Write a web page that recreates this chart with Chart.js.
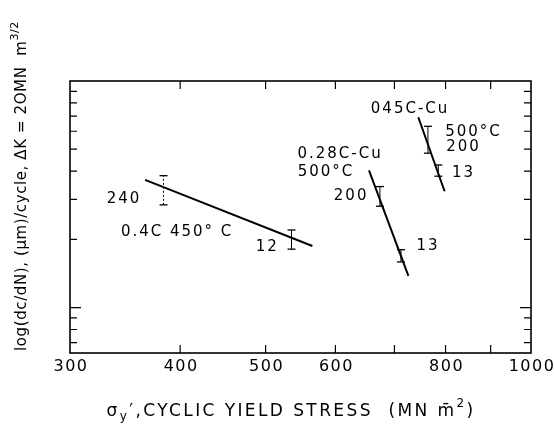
<!DOCTYPE html>
<html>
<head>
<meta charset="utf-8">
<script src="https://cdn.jsdelivr.net/npm/chart.js@4"></script>
<style>
  html, body { margin: 0; padding: 0; background: #fff; }
  #wrap { width: 554px; height: 432px; }
</style>
</head>
<body>
<div id="wrap"><canvas id="crackChart"></canvas></div>
<script>
// axis ticks (log scales, no labels on y)
const xTickValues = [400, 500, 600, 700, 800, 900];
const xTickLabels = [300, 400, 500, 600, 800, 1000];
const yTickValues = [0.07, 0.08, 0.09, 0.1, 0.2, 0.3, 0.4, 0.5, 0.6, 0.7, 0.8, 0.9];
const yMajorTick = 0.1;

// fitted lines, start and end points (cyclic yield stress, growth rate)
const lineX = [[365, 565], [655, 726], [745, 798]];
const lineY = [[0.366, 0.187], [0.403, 0.138], [0.692, 0.326]];

// scatter bands
const barX = [383, 535, 674, 712, 764, 785];
const barLow = [0.284, 0.181, 0.280, 0.159, 0.480, 0.380];
const barHigh = [0.382, 0.220, 0.342, 0.180, 0.631, 0.426];
const barDotted = [true, false, false, false, false, false];

// notes written on the plot, placed at data coordinates
const noteText = ['240', '0.4C 450° C', '12', '0.28C-Cu', '500°C', '200', '13', '045C-Cu', '500°C', '200', '13'];
const noteX = [344.5, 395.8, 500.8, 605.8, 583.9, 623.5, 762.2, 727.3, 858.3, 836.3, 836.3];
const noteY = [0.301, 0.2154, 0.185, 0.476, 0.3945, 0.309, 0.186, 0.752, 0.5925, 0.509, 0.391];

const FONT = '"DejaVu Sans", sans-serif';

const datasets = [];
lineX.forEach((xs, i) => {
    datasets.push({
        data: xs.map((x, j) => ({ x: x, y: lineY[i][j] })),
        showLine: true,
        borderColor: '#000',
        borderWidth: 2,
        pointRadius: 0
    });
});
barX.forEach((x, i) => {
    datasets.push({
        data: [{ x: x, y: barLow[i] }, { x: x, y: barHigh[i] }],
        showLine: true,
        borderColor: '#000',
        borderWidth: 1,
        borderDash: barDotted[i] ? [2, 2] : [],
        pointStyle: 'line',
        pointRadius: 4,
        pointBorderWidth: 1.3,
        pointBorderColor: '#000'
    });
});

// draws a string made of normal / sup / sub parts, centred on (cx, cy)
function drawRich(ctx, parts, cx, cy, size, spacing) {
    const fontFor = p => (p.s ? Math.round(size * 0.7) : size) + 'px ' + FONT;
    let total = 0;
    parts.forEach(p => {
        ctx.font = fontFor(p);
        ctx.letterSpacing = spacing + 'px';
        p.w = ctx.measureText(p.t).width;
        total += p.w;
    });
    let x = cx - total / 2;
    parts.forEach(p => {
        ctx.font = fontFor(p);
        ctx.letterSpacing = spacing + 'px';
        const dy = p.s === 'sup' ? -size * 0.45 : (p.s === 'sub' ? size * 0.3 : 0);
        ctx.fillText(p.t, x, cy + dy);
        x += p.w;
    });
}

const decorations = {
    id: 'decorations',
    afterDatasetsDraw(chart) {
        const { ctx, chartArea: a, scales: { x, y } } = chart;
        ctx.save();
        ctx.strokeStyle = '#000';
        ctx.fillStyle = '#000';

        // frame
        ctx.lineWidth = 1.6;
        ctx.strokeRect(a.left, a.top, a.right - a.left, a.bottom - a.top);

        // inward ticks on all four sides
        ctx.lineWidth = 1.2;
        ctx.beginPath();
        xTickValues.forEach(v => {
            const px = x.getPixelForValue(v);
            ctx.moveTo(px, a.bottom); ctx.lineTo(px, a.bottom - 8);
            ctx.moveTo(px, a.top); ctx.lineTo(px, a.top + 8);
        });
        yTickValues.forEach(v => {
            const py = y.getPixelForValue(v);
            const len = v === yMajorTick ? 11 : 7;
            ctx.moveTo(a.left, py); ctx.lineTo(a.left + len, py);
            ctx.moveTo(a.right, py); ctx.lineTo(a.right - len, py);
        });
        ctx.stroke();

        // x tick labels
        ctx.textBaseline = 'middle';
        ctx.textAlign = 'center';
        ctx.font = '16px ' + FONT;
        ctx.letterSpacing = '1.5px';
        xTickLabels.forEach(v => {
            ctx.fillText(String(v), x.getPixelForValue(v) + 1, a.bottom + 14);
        });

        // notes
        ctx.font = '15px ' + FONT;
        ctx.letterSpacing = '2px';
        noteText.forEach((t, i) => {
            ctx.fillText(t, x.getPixelForValue(noteX[i]) + 1, y.getPixelForValue(noteY[i]));
        });

        // axis titles
        ctx.textAlign = 'left';
        drawRich(ctx, [
            { t: 'σ' }, { t: 'y', s: 'sub' },
            { t: '′,CYCLIC YIELD STRESS  (MN m\u0304' }, { t: '2', s: 'sup' }, { t: ')' }
        ], 291, 412, 17, 2.4);

        ctx.translate(22, 186);
        ctx.rotate(-Math.PI / 2);
        drawRich(ctx, [
            { t: 'log(dc/dN), (μm)/cycle, ΔK = 2OMN  m' }, { t: '3/2', s: 'sup' }
        ], 0, 0, 15, 0.6);

        ctx.restore();
    }
};

new Chart(document.getElementById('crackChart'), {
    type: 'scatter',
    data: { datasets: datasets },
    options: {
        responsive: true,
        maintainAspectRatio: false,
        animation: false,
        layout: { padding: { left: 70, right: 23, top: 81, bottom: 79 } },
        plugins: {
            legend: { display: false },
            tooltip: { enabled: false }
        },
        scales: {
            x: { type: 'logarithmic', min: 300, max: 1000, display: false },
            y: { type: 'logarithmic', min: 0.063, max: 1, display: false }
        }
    },
    plugins: [decorations]
});
</script>
</body>
</html>
